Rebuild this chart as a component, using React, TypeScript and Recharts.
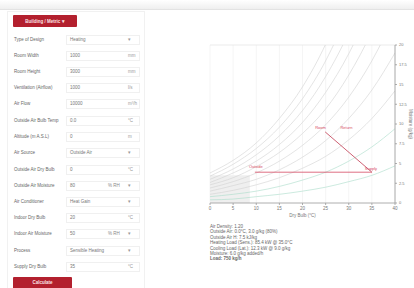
import React from "react";
import { ComposedChart, Line, XAxis, YAxis, CartesianGrid, ReferenceArea, ReferenceDot, ReferenceLine } from "recharts";

// Dry bulb temperatures (°C) and relative-humidity curves (g/kg)
const temps = [0, 5, 10, 15, 20, 25, 30, 35, 40];
const rh100 = [3.8, 5.4, 7.6, 10.7, 14.7, 20.1, 27.2, 36.6, 48.9];
const rh90 = [3.4, 4.9, 6.9, 9.6, 13.2, 18.0, 24.4, 32.7, 43.6];
const rh80 = [3.0, 4.3, 6.1, 8.5, 11.7, 16.0, 21.6, 29.0, 38.6];
const rh70 = [2.6, 3.8, 5.3, 7.4, 10.2, 14.0, 18.9, 25.3, 33.6];
const rh60 = [2.3, 3.2, 4.6, 6.4, 8.8, 11.9, 16.2, 21.7, 28.7];
const rh50 = [1.9, 2.7, 3.8, 5.3, 7.3, 9.9, 13.4, 18.0, 23.8];
const rh40 = [1.5, 2.2, 3.0, 4.2, 5.8, 7.9, 10.7, 14.3, 19.0];
const rh30 = [1.1, 1.6, 2.3, 3.2, 4.4, 5.9, 8.0, 10.7, 14.2];
const rh20 = [0.8, 1.1, 1.5, 2.1, 2.9, 3.9, 5.3, 7.1, 9.4];
const rh10 = [0.4, 0.5, 0.8, 1.1, 1.5, 2.0, 2.7, 3.5, 4.7];

const xTicks = [0, 5, 10, 15, 20, 25, 30, 35, 40];
const yTicks = [0, 2.5, 5, 7.5, 10, 12.5, 15, 17.5, 20];

// Process lines
const heatT = [9.7, 35.0];
const heatW = [3.9, 3.9];
const mixT = [24.9, 35.0];
const mixW = [9.0, 3.9];

// Process points
const pointNames = ["Outside", "Supply", "Room", "Return"];
const pointT = [9.9, 34.8, 23.9, 29.5];
const pointW = [4.6, 4.4, 9.5, 9.5];

// Form
const formLabels = [
  "Type of Design",
  "Room Width",
  "Room Height",
  "Ventilation (Airflow)",
  "Air Flow",
  "Outside Air Bulb Temp",
  "Altitude (m A.S.L)",
  "Air Source",
  "Outside Air Dry Bulb",
  "Outside Air Moisture",
  "Air Conditioner",
  "Indoor Dry Bulb",
  "Indoor Air Moisture",
  "Process",
  "Supply Dry Bulb",
];
const formValues = ["Heating", "1000", "3000", "1000", "10000", "0.0", "0", "Outside Air", "0", "80", "Heat Gain", "20", "50", "Sensible Heating", "35"];
const formUnits = ["▾", "mm", "mm", "l/s", "m³/h", "°C", "m", "▾", "°C", "▾", "▾", "°C", "▾", "▾", "°C"];
const formSubUnits = ["", "", "", "", "", "", "", "", "", "% RH", "", "", "% RH", "", ""];
const rowY = [40, 56, 72, 88, 104, 121, 137, 153, 170, 186, 202, 218, 234, 251, 267];

const results = [
  "Air Density: 1.20",
  "Outside Air: 0.0°C, 3.0 g/kg (80%)",
  "Outside Air H: 7.5 kJ/kg",
  "Heating Load (Sens.): 85.4 kW @ 35.0°C",
  "Cooling Load (Lat.): 12.3 kW @ 9.0 g/kg",
  "Moisture: 6.0 g/kg added/h",
  "Load: 750 kg/h",
];

const curveData = temps.map((t, i) => ({
  t,
  rh100: rh100[i],
  rh90: rh90[i],
  rh80: rh80[i],
  rh70: rh70[i],
  rh60: rh60[i],
  rh50: rh50[i],
  rh40: rh40[i],
  rh30: rh30[i],
  rh20: rh20[i],
  rh10: rh10[i],
}));
const heatData = heatT.map((t, i) => ({ t, w: heatW[i] }));
const mixData = mixT.map((t, i) => ({ t, w: mixW[i] }));

const greyKeys = ["rh100", "rh90", "rh80", "rh70", "rh60", "rh50", "rh40", "rh30"];
const tealKeys = ["rh20", "rh10"];

const RED = "#d64a63";

function YLabel(props: any) {
  const vb = props.viewBox || { x: 195, y: 10, width: 14, height: 158 };
  const x = vb.x + vb.width + 1;
  const y = vb.y + vb.height / 2;
  return (
    <text x={x} y={y} transform={`rotate(90, ${x}, ${y})`} textAnchor="middle" fontSize={4.5} fill="#777" dominantBaseline="middle">
      Moisture (g/kg)
    </text>
  );
}

export default function App() {
  const font = 'Arial, "Liberation Sans", sans-serif';
  return (
    <div style={{ position: "absolute", left: 0, top: 0, width: 414, height: 288, background: "#fff", fontFamily: font, overflow: "hidden" }}>
      <div style={{ position: "absolute", left: 0, top: 0, width: 414, height: 9, background: "linear-gradient(#ffffff, #efefef)", borderBottom: "1px solid #e3e3e3" }} />
      <div style={{ position: "absolute", left: 7, top: 11, width: 136, height: 280, border: "1px solid #f1f1f1" }} />
      <div style={{ position: "absolute", left: 13, top: 15, width: 64, height: 12, background: "#b3202e", borderRadius: 1, color: "#fbe4e6", fontSize: 4.5, fontWeight: "bold", display: "flex", alignItems: "center", justifyContent: "center" }}>
        Building / Metric ▾
      </div>
      {formLabels.map((lab, i) => (
        <React.Fragment key={lab}>
          <div style={{ position: "absolute", left: 14, top: rowY[i] - 3, fontSize: 4.5, lineHeight: "6px", color: "#666", whiteSpace: "nowrap" }}>{lab}</div>
          <div style={{ position: "absolute", left: 66, top: rowY[i] - 5, width: 74, height: 10, border: "1px solid #f0f0f0", boxSizing: "border-box" }} />
          <div style={{ position: "absolute", left: 70, top: rowY[i] - 3, fontSize: 4.5, lineHeight: "6px", color: "#777", whiteSpace: "nowrap" }}>{formValues[i]}</div>
          {formSubUnits[i] ? (
            <div style={{ position: "absolute", left: 108, top: rowY[i] - 3, fontSize: 4.5, lineHeight: "6px", color: "#888", whiteSpace: "nowrap" }}>{formSubUnits[i]}</div>
          ) : null}
          <div style={{ position: "absolute", left: 128, top: rowY[i] - 3, fontSize: 4.5, lineHeight: "6px", color: "#999", whiteSpace: "nowrap" }}>{formUnits[i]}</div>
        </React.Fragment>
      ))}
      <div style={{ position: "absolute", left: 13, top: 277, width: 59, height: 14, background: "#b3202e", borderRadius: 1, color: "#fbe4e6", fontSize: 4.5, fontWeight: "bold", display: "flex", alignItems: "flex-start", justifyContent: "center", paddingTop: 3, boxSizing: "border-box" }}>
        Calculate
      </div>

      <div style={{ position: "absolute", left: 200, top: 35, width: 214, height: 190 }}>
        <ComposedChart width={214} height={190} data={curveData} margin={{ top: 10, right: 5, bottom: 2, left: 10 }}>
          <CartesianGrid horizontal={false} stroke="#f3f3f3" strokeWidth={0.8} />
          <ReferenceArea x1={0} x2={8.6} y1={0} y2={3.5} fill="#efefef" fillOpacity={1} stroke="none" />
          <ReferenceLine y={20} stroke="#e6e6e6" strokeWidth={0.8} />
          <XAxis
            type="number"
            dataKey="t"
            domain={[0, 40]}
            ticks={xTicks}
            height={20}
            tickSize={2}
            tick={{ fontSize: 4.5, fill: "#777" }}
            axisLine={{ stroke: "#999", strokeWidth: 0.8 }}
            tickLine={{ stroke: "#999", strokeWidth: 0.8 }}
            allowDataOverflow
            label={{ value: "Dry Bulb (°C)", position: "insideBottom", offset: 6, fontSize: 4.5, fill: "#777" }}
          />
          <YAxis
            orientation="right"
            type="number"
            domain={[0, 20]}
            ticks={yTicks}
            width={14}
            tickSize={2}
            tick={{ fontSize: 4, fill: "#777" }}
            axisLine={{ stroke: "#999", strokeWidth: 0.8 }}
            tickLine={{ stroke: "#999", strokeWidth: 0.8 }}
            allowDataOverflow
            label={<YLabel />}
          />
          {greyKeys.map((k) => (
            <Line key={k} dataKey={k} type="monotone" stroke="#d2d2d2" strokeWidth={0.6} dot={false} isAnimationActive={false} />
          ))}
          {tealKeys.map((k) => (
            <Line key={k} dataKey={k} type="monotone" stroke="#a9dcc9" strokeWidth={0.6} dot={false} isAnimationActive={false} />
          ))}
          <Line data={heatData} dataKey="w" type="linear" stroke={RED} strokeWidth={0.8} dot={false} isAnimationActive={false} />
          <Line data={mixData} dataKey="w" type="linear" stroke="#c0394f" strokeWidth={0.8} dot={false} isAnimationActive={false} />
          {pointNames.map((n, i) => (
            <ReferenceDot
              key={n}
              x={pointT[i]}
              y={pointW[i]}
              r={0}
              stroke="none"
              fill="none"
              label={{ value: n, position: "center", fontSize: 4, fill: RED }}
            />
          ))}
        </ComposedChart>
      </div>

      <div style={{ position: "absolute", left: 210, top: 224, fontSize: 4.5, lineHeight: "5.4px", color: "#666" }}>
        {results.map((r, i) => (
          <div key={i} style={{ whiteSpace: "nowrap", fontWeight: i === results.length - 1 ? "bold" : "normal" }}>{r}</div>
        ))}
      </div>
    </div>
  );
}
